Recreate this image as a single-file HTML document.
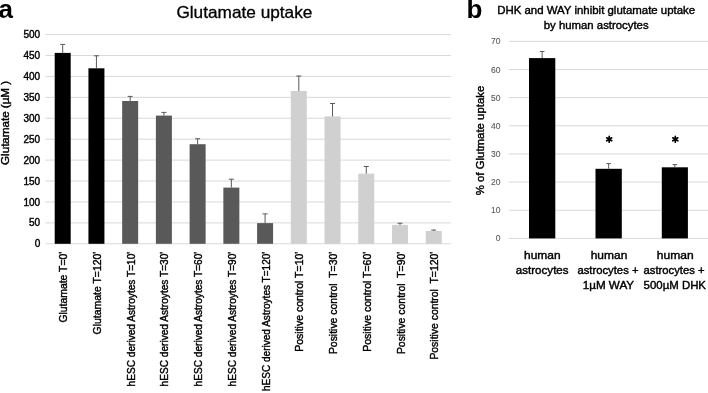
<!DOCTYPE html>
<html><head><meta charset="utf-8"><style>
html,body{margin:0;padding:0;background:#fff;}
body{width:708px;height:393px;overflow:hidden;}
svg{display:block;font-family:"Liberation Sans", sans-serif;will-change:transform;}
</style></head><body>
<svg width="708" height="393" viewBox="0 0 708 393">
<rect width="708" height="393" fill="#fff"/>
<line x1="45.5" y1="243.80" x2="450.8" y2="243.80" stroke="#d9d9d9" stroke-width="1"/>
<text x="40.20" y="247.40" font-size="10" text-anchor="end" fill="#000" stroke="#000" stroke-width="0.4" xml:space="preserve">0</text>
<line x1="45.5" y1="222.88" x2="450.8" y2="222.88" stroke="#d9d9d9" stroke-width="1"/>
<text x="40.20" y="226.48" font-size="10" text-anchor="end" fill="#000" stroke="#000" stroke-width="0.4" xml:space="preserve">50</text>
<line x1="45.5" y1="201.96" x2="450.8" y2="201.96" stroke="#d9d9d9" stroke-width="1"/>
<text x="40.20" y="205.56" font-size="10" text-anchor="end" fill="#000" stroke="#000" stroke-width="0.4" xml:space="preserve">100</text>
<line x1="45.5" y1="181.04" x2="450.8" y2="181.04" stroke="#d9d9d9" stroke-width="1"/>
<text x="40.20" y="184.64" font-size="10" text-anchor="end" fill="#000" stroke="#000" stroke-width="0.4" xml:space="preserve">150</text>
<line x1="45.5" y1="160.12" x2="450.8" y2="160.12" stroke="#d9d9d9" stroke-width="1"/>
<text x="40.20" y="163.72" font-size="10" text-anchor="end" fill="#000" stroke="#000" stroke-width="0.4" xml:space="preserve">200</text>
<line x1="45.5" y1="139.20" x2="450.8" y2="139.20" stroke="#d9d9d9" stroke-width="1"/>
<text x="40.20" y="142.80" font-size="10" text-anchor="end" fill="#000" stroke="#000" stroke-width="0.4" xml:space="preserve">250</text>
<line x1="45.5" y1="118.28" x2="450.8" y2="118.28" stroke="#d9d9d9" stroke-width="1"/>
<text x="40.20" y="121.88" font-size="10" text-anchor="end" fill="#000" stroke="#000" stroke-width="0.4" xml:space="preserve">300</text>
<line x1="45.5" y1="97.36" x2="450.8" y2="97.36" stroke="#d9d9d9" stroke-width="1"/>
<text x="40.20" y="100.96" font-size="10" text-anchor="end" fill="#000" stroke="#000" stroke-width="0.4" xml:space="preserve">350</text>
<line x1="45.5" y1="76.44" x2="450.8" y2="76.44" stroke="#d9d9d9" stroke-width="1"/>
<text x="40.20" y="80.04" font-size="10" text-anchor="end" fill="#000" stroke="#000" stroke-width="0.4" xml:space="preserve">400</text>
<line x1="45.5" y1="55.52" x2="450.8" y2="55.52" stroke="#d9d9d9" stroke-width="1"/>
<text x="40.20" y="59.12" font-size="10" text-anchor="end" fill="#000" stroke="#000" stroke-width="0.4" xml:space="preserve">450</text>
<line x1="45.5" y1="34.60" x2="450.8" y2="34.60" stroke="#d9d9d9" stroke-width="1"/>
<text x="40.20" y="38.20" font-size="10" text-anchor="end" fill="#000" stroke="#000" stroke-width="0.4" xml:space="preserve">500</text>
<rect x="54.70" y="52.90" width="16.0" height="190.90" fill="#000000"/>
<path d="M62.70 52.90V44.40M60.20 44.40H65.20" stroke="#595959" stroke-width="1" fill="none"/>
<text x="67.30" y="251.70" font-size="10.7" text-anchor="end" fill="#000" stroke="#000" stroke-width="0.4" textLength="70.90" lengthAdjust="spacingAndGlyphs" transform="rotate(-90 67.30 251.70)" xml:space="preserve">Glutamate T=0'</text>
<rect x="88.43" y="68.30" width="16.0" height="175.50" fill="#000000"/>
<path d="M96.43 68.30V55.80M93.93 55.80H98.93" stroke="#595959" stroke-width="1" fill="none"/>
<text x="101.03" y="251.70" font-size="10.7" text-anchor="end" fill="#000" stroke="#000" stroke-width="0.4" textLength="82.70" lengthAdjust="spacingAndGlyphs" transform="rotate(-90 101.03 251.70)" xml:space="preserve">Glutamate T=120'</text>
<rect x="122.16" y="101.00" width="16.0" height="142.80" fill="#595959"/>
<path d="M130.16 101.00V96.40M127.66 96.40H132.66" stroke="#595959" stroke-width="1" fill="none"/>
<text x="134.76" y="251.70" font-size="10.7" text-anchor="end" fill="#000" stroke="#000" stroke-width="0.4" textLength="134.70" lengthAdjust="spacingAndGlyphs" transform="rotate(-90 134.76 251.70)" xml:space="preserve">hESC derived Astroytes T=10'</text>
<rect x="155.89" y="115.60" width="16.0" height="128.20" fill="#595959"/>
<path d="M163.89 115.60V112.40M161.39 112.40H166.39" stroke="#595959" stroke-width="1" fill="none"/>
<text x="168.49" y="251.70" font-size="10.7" text-anchor="end" fill="#000" stroke="#000" stroke-width="0.4" textLength="134.70" lengthAdjust="spacingAndGlyphs" transform="rotate(-90 168.49 251.70)" xml:space="preserve">hESC derived Astroytes T=30'</text>
<rect x="189.62" y="144.20" width="16.0" height="99.60" fill="#595959"/>
<path d="M197.62 144.20V138.75M195.12 138.75H200.12" stroke="#595959" stroke-width="1" fill="none"/>
<text x="202.22" y="251.70" font-size="10.7" text-anchor="end" fill="#000" stroke="#000" stroke-width="0.4" textLength="134.70" lengthAdjust="spacingAndGlyphs" transform="rotate(-90 202.22 251.70)" xml:space="preserve">hESC derived Astroytes T=60'</text>
<rect x="223.35" y="187.60" width="16.0" height="56.20" fill="#595959"/>
<path d="M231.35 187.60V179.20M228.85 179.20H233.85" stroke="#595959" stroke-width="1" fill="none"/>
<text x="235.95" y="251.70" font-size="10.7" text-anchor="end" fill="#000" stroke="#000" stroke-width="0.4" textLength="134.70" lengthAdjust="spacingAndGlyphs" transform="rotate(-90 235.95 251.70)" xml:space="preserve">hESC derived Astroytes T=90'</text>
<rect x="257.08" y="223.10" width="16.0" height="20.70" fill="#595959"/>
<path d="M265.08 223.10V213.90M262.58 213.90H267.58" stroke="#595959" stroke-width="1" fill="none"/>
<text x="269.68" y="251.70" font-size="10.7" text-anchor="end" fill="#000" stroke="#000" stroke-width="0.4" textLength="139.30" lengthAdjust="spacingAndGlyphs" transform="rotate(-90 269.68 251.70)" xml:space="preserve">hESC derived Astroytes T=120'</text>
<rect x="290.81" y="91.00" width="16.0" height="152.80" fill="#d0d0d0"/>
<path d="M298.81 91.00V76.00M296.31 76.00H301.31" stroke="#595959" stroke-width="1" fill="none"/>
<text x="303.41" y="251.70" font-size="10.7" text-anchor="end" fill="#000" stroke="#000" stroke-width="0.4" textLength="100.00" lengthAdjust="spacingAndGlyphs" transform="rotate(-90 303.41 251.70)" xml:space="preserve">Positive control T=10'</text>
<rect x="324.54" y="116.40" width="16.0" height="127.40" fill="#d0d0d0"/>
<path d="M332.54 116.40V103.50M330.04 103.50H335.04" stroke="#595959" stroke-width="1" fill="none"/>
<text x="337.14" y="251.70" font-size="10.7" text-anchor="end" fill="#000" stroke="#000" stroke-width="0.4" textLength="102.40" lengthAdjust="spacingAndGlyphs" transform="rotate(-90 337.14 251.70)" xml:space="preserve">Positive control  T=30'</text>
<rect x="358.27" y="173.65" width="16.0" height="70.15" fill="#d0d0d0"/>
<path d="M366.27 173.65V166.50M363.77 166.50H368.77" stroke="#595959" stroke-width="1" fill="none"/>
<text x="370.87" y="251.70" font-size="10.7" text-anchor="end" fill="#000" stroke="#000" stroke-width="0.4" textLength="100.00" lengthAdjust="spacingAndGlyphs" transform="rotate(-90 370.87 251.70)" xml:space="preserve">Positive control T=60'</text>
<rect x="392.00" y="224.90" width="16.0" height="18.90" fill="#d0d0d0"/>
<path d="M400.00 224.90V223.20M397.50 223.20H402.50" stroke="#595959" stroke-width="1" fill="none"/>
<text x="404.60" y="251.70" font-size="10.7" text-anchor="end" fill="#000" stroke="#000" stroke-width="0.4" textLength="102.40" lengthAdjust="spacingAndGlyphs" transform="rotate(-90 404.60 251.70)" xml:space="preserve">Positive control  T=90'</text>
<rect x="425.73" y="231.00" width="16.0" height="12.80" fill="#d0d0d0"/>
<path d="M433.73 231.00V230.00M431.23 230.00H436.23" stroke="#595959" stroke-width="1" fill="none"/>
<text x="438.33" y="251.70" font-size="10.7" text-anchor="end" fill="#000" stroke="#000" stroke-width="0.4" textLength="107.90" lengthAdjust="spacingAndGlyphs" transform="rotate(-90 438.33 251.70)" xml:space="preserve">Positive control  T=120'</text>
<text x="176.40" y="18.40" font-size="16.5" text-anchor="start" fill="#000" stroke="#000" stroke-width="0.3" textLength="136.00" lengthAdjust="spacingAndGlyphs" xml:space="preserve">Glutamate uptake</text>
<text x="9.30" y="164.90" font-size="10.3" text-anchor="start" fill="#000" stroke="#000" stroke-width="0.4" textLength="84.00" lengthAdjust="spacingAndGlyphs" transform="rotate(-90 9.30 164.90)" xml:space="preserve">Glutamate (µM )</text>
<text x="-1.60" y="18.30" font-size="26" text-anchor="start" fill="#000" font-weight="bold" xml:space="preserve">a</text>
<line x1="508.9" y1="238.40" x2="708" y2="238.40" stroke="#d9d9d9" stroke-width="1"/>
<text x="500.40" y="241.40" font-size="8.5" text-anchor="end" fill="#595959" stroke="#595959" stroke-width="0.1" xml:space="preserve">0</text>
<line x1="508.9" y1="210.25" x2="708" y2="210.25" stroke="#d9d9d9" stroke-width="1"/>
<text x="500.40" y="213.25" font-size="8.5" text-anchor="end" fill="#595959" stroke="#595959" stroke-width="0.1" xml:space="preserve">10</text>
<line x1="508.9" y1="182.10" x2="708" y2="182.10" stroke="#d9d9d9" stroke-width="1"/>
<text x="500.40" y="185.10" font-size="8.5" text-anchor="end" fill="#595959" stroke="#595959" stroke-width="0.1" xml:space="preserve">20</text>
<line x1="508.9" y1="153.95" x2="708" y2="153.95" stroke="#d9d9d9" stroke-width="1"/>
<text x="500.40" y="156.95" font-size="8.5" text-anchor="end" fill="#595959" stroke="#595959" stroke-width="0.1" xml:space="preserve">30</text>
<line x1="508.9" y1="125.80" x2="708" y2="125.80" stroke="#d9d9d9" stroke-width="1"/>
<text x="500.40" y="128.80" font-size="8.5" text-anchor="end" fill="#595959" stroke="#595959" stroke-width="0.1" xml:space="preserve">40</text>
<line x1="508.9" y1="97.65" x2="708" y2="97.65" stroke="#d9d9d9" stroke-width="1"/>
<text x="500.40" y="100.65" font-size="8.5" text-anchor="end" fill="#595959" stroke="#595959" stroke-width="0.1" xml:space="preserve">50</text>
<line x1="508.9" y1="69.50" x2="708" y2="69.50" stroke="#d9d9d9" stroke-width="1"/>
<text x="500.40" y="72.50" font-size="8.5" text-anchor="end" fill="#595959" stroke="#595959" stroke-width="0.1" xml:space="preserve">60</text>
<line x1="508.9" y1="41.35" x2="708" y2="41.35" stroke="#d9d9d9" stroke-width="1"/>
<text x="500.40" y="44.35" font-size="8.5" text-anchor="end" fill="#595959" stroke="#595959" stroke-width="0.1" xml:space="preserve">70</text>
<rect x="529.00" y="58.10" width="26.30" height="180.30" fill="#000"/>
<path d="M542.15 58.10V51.50M539.85 51.50H544.45" stroke="#595959" stroke-width="1" fill="none"/>
<rect x="595.50" y="168.80" width="26.30" height="69.60" fill="#000"/>
<path d="M608.65 168.80V163.60M606.35 163.60H610.95" stroke="#595959" stroke-width="1" fill="none"/>
<rect x="661.80" y="167.30" width="26.10" height="71.10" fill="#000"/>
<path d="M674.85 167.30V164.60M672.55 164.60H677.15" stroke="#595959" stroke-width="1" fill="none"/>
<path d="M609.20 139.30L609.20 136.40M609.20 139.30L606.69 137.85M609.20 139.30L606.69 140.75M609.20 139.30L609.20 142.20M609.20 139.30L611.71 140.75M609.20 139.30L611.71 137.85" stroke="#000" stroke-width="1.7" stroke-linecap="round" fill="none"/>
<path d="M675.30 139.30L675.30 136.40M675.30 139.30L672.79 137.85M675.30 139.30L672.79 140.75M675.30 139.30L675.30 142.20M675.30 139.30L677.81 140.75M675.30 139.30L677.81 137.85" stroke="#000" stroke-width="1.7" stroke-linecap="round" fill="none"/>
<text x="596.20" y="13.50" font-size="10.8" text-anchor="middle" fill="#000" stroke="#000" stroke-width="0.4" textLength="198.00" lengthAdjust="spacingAndGlyphs" xml:space="preserve">DHK and WAY inhibit glutamate uptake</text>
<text x="596.20" y="28.50" font-size="10.8" text-anchor="middle" fill="#000" stroke="#000" stroke-width="0.4" textLength="104.80" lengthAdjust="spacingAndGlyphs" xml:space="preserve">by human astrocytes</text>
<text x="484.20" y="195.30" font-size="11" text-anchor="start" fill="#000" stroke="#000" stroke-width="0.4" textLength="109.60" lengthAdjust="spacingAndGlyphs" transform="rotate(-90 484.20 195.30)" xml:space="preserve">% of Glutmate uptake</text>
<text x="542.30" y="258.80" font-size="10.8" text-anchor="middle" fill="#000" stroke="#000" stroke-width="0.4" textLength="36.60" lengthAdjust="spacingAndGlyphs" xml:space="preserve">human</text>
<text x="542.20" y="273.80" font-size="10.8" text-anchor="middle" fill="#000" stroke="#000" stroke-width="0.4" textLength="52.80" lengthAdjust="spacingAndGlyphs" xml:space="preserve">astrocytes</text>
<text x="609.00" y="258.80" font-size="10.8" text-anchor="middle" fill="#000" stroke="#000" stroke-width="0.4" textLength="36.60" lengthAdjust="spacingAndGlyphs" xml:space="preserve">human</text>
<text x="607.95" y="273.80" font-size="10.8" text-anchor="middle" fill="#000" stroke="#000" stroke-width="0.4" textLength="61.10" lengthAdjust="spacingAndGlyphs" xml:space="preserve">astrocytes +</text>
<text x="608.40" y="288.80" font-size="10.8" text-anchor="middle" fill="#000" stroke="#000" stroke-width="0.4" textLength="51.40" lengthAdjust="spacingAndGlyphs" xml:space="preserve">1µM WAY</text>
<text x="675.25" y="258.80" font-size="10.8" text-anchor="middle" fill="#000" stroke="#000" stroke-width="0.4" textLength="36.90" lengthAdjust="spacingAndGlyphs" xml:space="preserve">human</text>
<text x="674.10" y="273.80" font-size="10.8" text-anchor="middle" fill="#000" stroke="#000" stroke-width="0.4" textLength="61.00" lengthAdjust="spacingAndGlyphs" xml:space="preserve">astrocytes +</text>
<text x="674.80" y="288.80" font-size="10.8" text-anchor="middle" fill="#000" stroke="#000" stroke-width="0.4" textLength="62.40" lengthAdjust="spacingAndGlyphs" xml:space="preserve">500µM DHK</text>
<text x="466.40" y="18.40" font-size="26" text-anchor="start" fill="#000" font-weight="bold" xml:space="preserve">b</text>
</svg>
</body></html>
